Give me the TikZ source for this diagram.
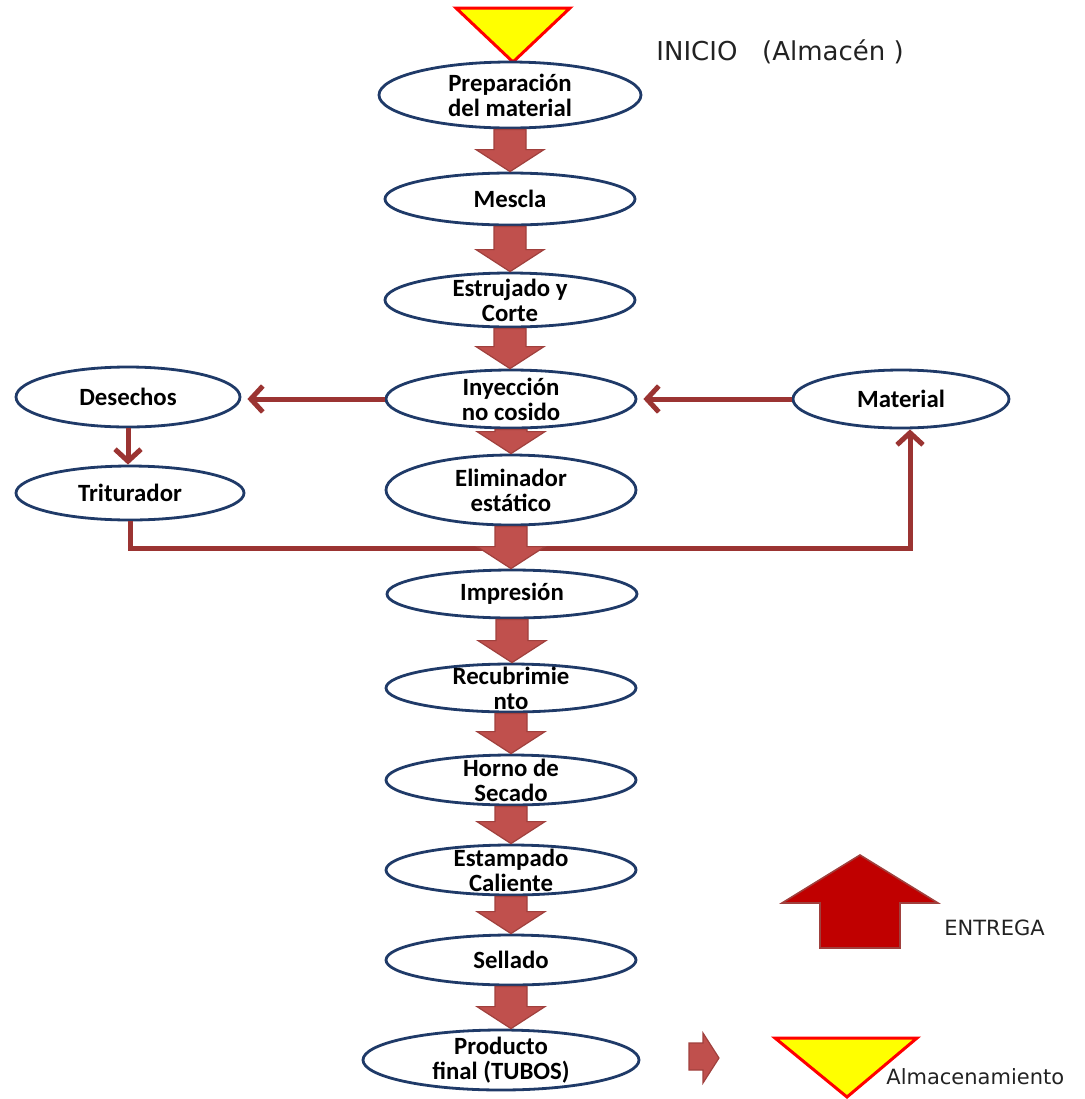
\documentclass[tikz,border=0pt]{standalone}
\usepackage{fontspec}
\setmainfont{Carlito}
\newfontfamily\notefont{DejaVu Sans}
\usetikzlibrary{shapes.geometric, arrows.meta, calc}

\definecolor{borde}{HTML}{1F3A68}
\definecolor{flecha}{HTML}{C0504D}
\definecolor{flechaborde}{HTML}{A0403D}
\definecolor{linea}{HTML}{9B3432}
\definecolor{entrega}{HTML}{C00000}
\definecolor{amarillo}{HTML}{FFFF00}
\definecolor{texto}{HTML}{222222}

% fat block arrow from one step down to the next
\newcommand{\bigarrow}[2]{%
  \path let \p1=(#1.south), \p2=(#2.north) in
    [bloque] (\x1-8pt,\y1) -- (\x1+8pt,\y1) -- (\x1+8pt,\y2+11pt) -- (\x1+17pt,\y2+11pt)
    -- (\x1,\y2) -- (\x1-17pt,\y2+11pt) -- (\x1-8pt,\y2+11pt) -- cycle;}

\begin{document}
\begin{tikzpicture}[x=0.5pt, y=-0.5pt,
    proceso/.style={ellipse, draw=borde, line width=1.4pt, fill=white, text=black,
      inner xsep=0pt, inner ysep=-5pt, minimum width=125pt, minimum height=25pt,
      align=center, font=\bfseries\fontsize{12.4}{12.6}\selectfont},
    bloque/.style={fill=flecha, draw=flechaborde, line width=0.6pt},
    link/.style={draw=linea, line width=2.5pt,
      -{Straight Barb[length=6pt, width=13pt]}},
    almacen/.style={fill=amarillo, draw=red, line width=1.5pt, line join=miter},
    nota/.style={text=texto, inner sep=0pt, font=\notefont\fontsize{10.5}{12}\selectfont}]
    \useasboundingbox (0,0) rectangle (1084,1099);

    % Start
    \draw[almacen] (456,8) -- (570,8) -- (513,62) -- cycle;
    \node[nota, anchor=west, font=\notefont\fontsize{13}{15}\selectfont] (inicio) at (656,52) {INICIO \ \ (Almacén )};

    % Nodes
    \node[proceso, minimum width=131pt, minimum height=33pt] (prep) at (510,95) {Preparación\\del material};
    \node[proceso, minimum height=26pt] (mes) at (510,199) {Mescla};
    \node[proceso, minimum height=27pt] (est) at (510,300) {Estrujado y\\Corte};
    \node[proceso, minimum height=29pt] (iny) at (511,399) {Inyección\\no cosido};
    \node[proceso, minimum width=112pt, minimum height=30pt] (des) at (128,397) {Desechos};
    \node[proceso, minimum width=108pt, minimum height=29pt] (mat) at (901,399) {Material};
    \node[proceso, minimum width=114pt, minimum height=27pt] (tri) at (130,493) {Triturador};
    \node[proceso, minimum height=35pt] (eli) at (511,490) {Eliminador\\estático};
    \node[proceso, minimum height=24pt] (imp) at (512,594) {Impresión};
    \node[proceso, minimum height=24pt] (rec) at (511,688) {Recubrimie\\nto};
    \node[proceso] (hor) at (511,780) {Horno de\\Secado};
    \node[proceso] (esc) at (511,870) {Estampado\\Caliente};
    \node[proceso] (sel) at (511,960) {Sellado};
    \node[proceso, minimum width=138pt, minimum height=30pt] (pro) at (501,1060) {Producto\\final (TUBOS)};
    \coordinate (retorno) at (910,548);

    % Edges
    \draw[link, shorten >=3pt] (iny.west) -- (des.east |- iny.west);
    \draw[link, shorten >=3pt] (mat.west) -- (iny.east);
    \draw[link] (des.south) -- (des.south |- tri.north);
    \draw[link] (tri.south) |- (retorno) -- (retorno |- mat.south);

    % Process arrows
    \bigarrow{prep}{mes}
    \bigarrow{mes}{est}
    \bigarrow{est}{iny}
    \bigarrow{iny}{eli}
    \bigarrow{eli}{imp}
    \bigarrow{imp}{rec}
    \bigarrow{rec}{hor}
    \bigarrow{hor}{esc}
    \bigarrow{esc}{sel}
    \bigarrow{sel}{pro}

    % Legend
    \draw[fill=entrega, draw=flechaborde, line width=0.8pt] (860,855) -- (938,903) -- (900,903)
      -- (900,948) -- (820,948) -- (820,903) -- (782,903) -- cycle;
    \node[nota, anchor=west] (entrega) at (944,928) {ENTREGA};
    \draw[bloque] (689,1043) -- (703,1043) -- (703,1033) -- (719,1058) -- (703,1083)
      -- (703,1070) -- (689,1070) -- cycle;
    \draw[almacen] (775,1038) -- (917,1038) -- (847,1097) -- cycle;
    \node[nota, anchor=west] (almac) at (886,1077) {Almacenamiento};
\end{tikzpicture}
\end{document}
